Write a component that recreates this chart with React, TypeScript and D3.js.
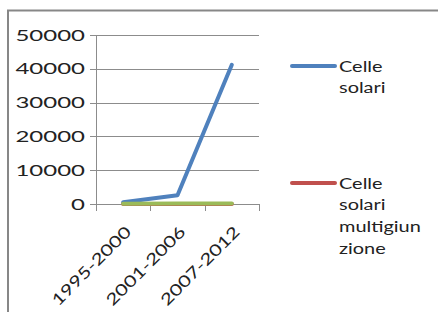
import React from 'react';
import * as d3 from 'd3';

const categories = ['1995-2000', '2001-2006', '2007-2012'];
const celleSolari = [500, 2600, 41200];
const celleMultigiunzione = [0, 0, 0];
const terzaSerie = [100, 120, 130];
const yTicks = [0, 10000, 20000, 30000, 40000, 50000];
const seriesColors = ['#4F81BD', '#C0504D', '#9BBB59'];
const legendLines = [
  ['Celle', 'solari'],
  ['Celle', 'solari', 'multigiun', 'zione'],
];

const width = 438;
const height = 312;
const font = 'Lato, "Open Sans", sans-serif';
const textColor = '#222';

export default function App() {
  const x = d3.scaleBand<string>().domain(categories).range([96, 259]);
  const y = d3.scaleLinear().domain([0, 50000]).range([204, 35]);
  const line = d3.line<number>()
    .x((_, i) => (x(categories[i]) ?? 0) + x.bandwidth() / 2)
    .y(d => y(d));

  const series = [celleSolari, celleMultigiunzione, terzaSerie];
  const ticksX = [...categories.map(c => x(c) ?? 0), x.range()[1]];
  const legendY = [66, 183];

  return (
    <svg width={width} height={height} style={{ position: 'absolute', left: 0, top: 0, background: '#fff' }}>
      <rect x={8} y={10.5} width={460} height={340} fill="#fff" stroke="#878787" strokeWidth={2} />
      {yTicks.map(t => (
        <g key={t}>
          <line x1={90} x2={259} y1={Math.round(y(t)) + 0.5} y2={Math.round(y(t)) + 0.5} stroke="#8c8c8c" strokeWidth={1} />
          <text transform={`translate(85,${y(t) + 5.5}) scale(1.5,1)`} textAnchor="end"
            fontFamily={font} fontSize={16} fill={textColor}>{t}</text>
        </g>
      ))}
      <line x1={96.5} x2={96.5} y1={y(50000)} y2={y(0)} stroke="#8c8c8c" />
      {ticksX.map((t, i) => (
        <line key={i} x1={Math.round(t) + 0.5} x2={Math.round(t) + 0.5} y1={y(0)} y2={y(0) + 7} stroke="#8c8c8c" />
      ))}
      {categories.map(c => {
        const cx = (x(c) ?? 0) + x.bandwidth() / 2;
        return (
          <text key={c} transform={`translate(${cx + 9},${233}) rotate(-45) scale(1.3,1)`} textAnchor="end"
            fontFamily={font} fontSize={16} fill={textColor}>{c}</text>
        );
      })}
      {series.map((s, i) => (
        <path key={i} d={line(s) ?? ''} fill="none" stroke={seriesColors[i]} strokeWidth={4}
          strokeLinecap="round" strokeLinejoin="round" />
      ))}
      {legendLines.map((lines, i) => (
        <g key={i}>
          <line x1={292} x2={335} y1={legendY[i]} y2={legendY[i]} stroke={seriesColors[i]} strokeWidth={4} strokeLinecap="round" />
          {lines.map((l, j) => (
            <text key={j} transform={`translate(339,${legendY[i] + 5.5 + j * 21.7}) scale(1.33,1)`}
              fontFamily={font} fontSize={15} fill={textColor}>{l}</text>
          ))}
        </g>
      ))}
    </svg>
  );
}
